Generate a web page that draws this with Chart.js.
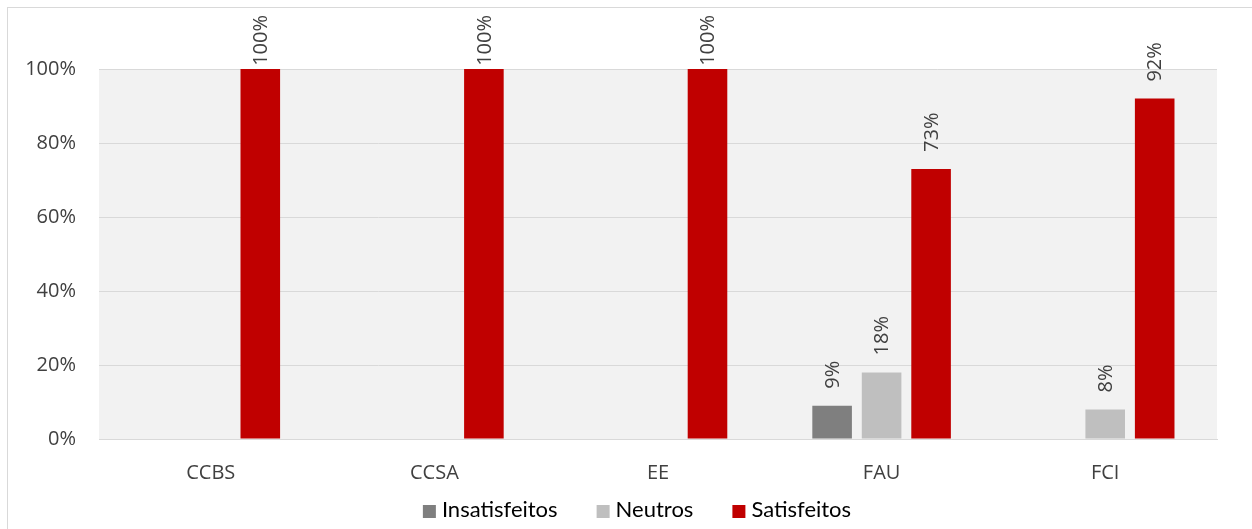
<!DOCTYPE html>
<html>
<head>
<meta charset="utf-8">
<script src="https://cdn.jsdelivr.net/npm/chart.js@4"></script>
<style>
    html, body { margin: 0; padding: 0; background: #fff; }
    #wrap { position: relative; width: 1252px; height: 529px; overflow: hidden; }
    #frame { position: absolute; left: 7px; top: 7px; width: 1300px; height: 600px;
             border-left: 1px solid #d9d9d9; border-top: 1px solid #d9d9d9; }
    canvas { position: absolute; left: 0; top: 0; }
</style>
</head>
<body>
<div id="wrap">
    <div id="frame"></div>
    <canvas id="satChart" width="1252" height="529"></canvas>
</div>
<script>
const categories = ['CCBS', 'CCSA', 'EE', 'FAU', 'FCI'];
const insatisfeitos = [0, 0, 0, 9, 0];
const neutros = [0, 0, 0, 18, 8];
const satisfeitos = [100, 100, 100, 73, 92];
const yTicks = [0, 20, 40, 60, 80, 100];

const seriesNames = ['Insatisfeitos', 'Neutros', 'Satisfeitos'];
const seriesColors = ['#7f7f7f', '#bfbfbf', '#c00000'];

// fundo cinza da área do gráfico
const plotBg = {
    id: 'plotBg',
    beforeDraw(chart) {
        const { ctx, chartArea: a } = chart;
        ctx.save();
        ctx.fillStyle = '#f2f2f2';
        ctx.fillRect(a.left, a.top, a.right - a.left, a.bottom - a.top);
        ctx.restore();
    }
};

// rótulos verticais acima das barras
const barLabels = {
    id: 'barLabels',
    afterDatasetsDraw(chart) {
        const ctx = chart.ctx;
        ctx.save();
        ctx.font = '20px "Open Sans"';
        ctx.fillStyle = '#404040';
        ctx.textAlign = 'left';
        ctx.textBaseline = 'middle';
        chart.data.datasets.forEach((ds, i) => {
            chart.getDatasetMeta(i).data.forEach((bar, j) => {
                const v = ds.data[j];
                if (!v) return;
                const txt = v + '%';
                const w = ctx.measureText(txt).width;
                let y = bar.y - 17;
                if (y - w < 15) y = 15 + w;
                ctx.save();
                ctx.translate(bar.x, y);
                ctx.rotate(-Math.PI / 2);
                ctx.fillText(txt, 0, 1);
                ctx.restore();
            });
        });
        ctx.restore();
    }
};

// legenda desenhada à mão (espaçamento como no original)
const bottomLegend = {
    id: 'bottomLegend',
    afterDraw(chart) {
        const ctx = chart.ctx;
        const box = 13, gapText = 6, gapItem = 39;
        ctx.save();
        ctx.font = '22px Lato';
        ctx.textBaseline = 'alphabetic';
        const items = chart.data.datasets.map(ds => ({
            label: ds.label, color: ds.backgroundColor, w: ctx.measureText(ds.label).width
        }));
        let total = 0;
        items.forEach((it, i) => { total += box + gapText + it.w + (i < items.length - 1 ? gapItem : 0); });
        let x = 637 - total / 2;
        items.forEach(it => {
            ctx.fillStyle = it.color;
            ctx.fillRect(x, 505, box, box);
            ctx.fillStyle = '#000';
            ctx.fillText(it.label, x + box + gapText, 517);
            x += box + gapText + it.w + gapItem;
        });
        ctx.restore();
    }
};

function drawChart() {
    const ctx = document.getElementById('satChart').getContext('2d');
    new Chart(ctx, {
        type: 'bar',
        data: {
            labels: categories,
            datasets: [insatisfeitos, neutros, satisfeitos].map((d, i) => ({
                label: seriesNames[i],
                data: d,
                backgroundColor: seriesColors[i],
                borderWidth: 0,
                barPercentage: 0.8,
                categoryPercentage: 0.664
            }))
        },
        options: {
            responsive: false,
            animation: false,
            layout: { padding: { left: 0, right: 35, top: 69, bottom: 38 } },
            plugins: {
                legend: { display: false },
                tooltip: { enabled: false }
            },
            scales: {
                x: {
                    grid: { display: false, drawTicks: false },
                    border: { display: true, color: '#d9d9d9', width: 1 },
                    ticks: {
                        color: '#404040',
                        font: { family: 'Open Sans', size: 20 },
                        padding: 22
                    },
                    afterFit(scale) { scale.height = 52; }
                },
                y: {
                    min: 0,
                    max: 100,
                    afterBuildTicks(scale) { scale.ticks = yTicks.map(v => ({ value: v })); },
                    grid: { color: '#d9d9d9', lineWidth: 1, drawTicks: false },
                    border: { display: false },
                    ticks: {
                        color: '#404040',
                        font: { family: 'Open Sans', size: 20 },
                        padding: 23,
                        callback: v => v + '%'
                    },
                    afterFit(scale) { scale.width = 99; }
                }
            }
        },
        plugins: [plotBg, barLabels, bottomLegend]
    });
}

Promise.all([
    document.fonts.load('20px "Open Sans"'),
    document.fonts.load('22px Lato')
]).then(drawChart, drawChart);
</script>
</body>
</html>
